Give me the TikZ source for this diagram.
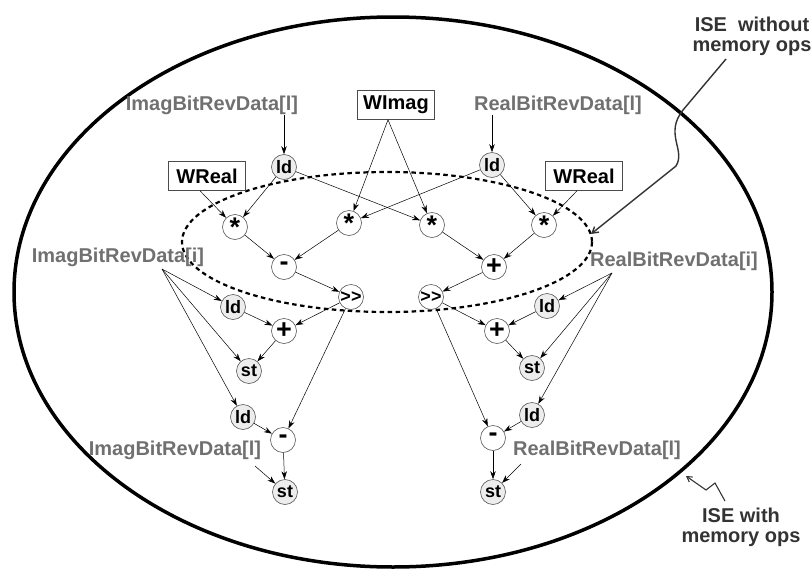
\documentclass[tikz,border=0pt]{standalone}
\usepackage{fontspec}
\setmainfont{Liberation Sans}
\usetikzlibrary{arrows.meta}
\definecolor{lblgray}{HTML}{707070}
\definecolor{anngray}{HTML}{333333}
\definecolor{nodefill}{HTML}{EDEDED}
\begin{document}
\begin{tikzpicture}[x=1pt,y=-1pt,
  op/.style={circle,draw=black!65,line width=0.6pt,fill=white,minimum size=25pt,inner sep=0pt,font=\fontsize{18}{18}\selectfont\bfseries},
  opbig/.style={op,font=\fontsize{27}{27}\selectfont\bfseries},
  mem/.style={op,fill=nodefill},
  box/.style={draw=black!70,line width=0.6pt,minimum width=77pt,minimum height=29pt,inner sep=0pt,font=\fontsize{20}{20}\selectfont\bfseries},
  lbl/.style={text=lblgray,font=\fontsize{20}{20}\selectfont\bfseries,inner sep=0pt},
  ann/.style={text=anngray,font=\fontsize{20}{20}\selectfont\bfseries,align=center,inner sep=0pt},
  arr/.style={-{Stealth[length=8pt,width=5.5pt]},line width=0.5pt,black},
  lead/.style={anngray,line width=1.4pt},
]
\useasboundingbox (0,0) rectangle (812,573);
% outer and inner ISE regions
\draw[line width=3.5pt] (393,292) ellipse [x radius=379, y radius=275];
\draw[line width=2.2pt,dash pattern=on 4.5pt off 3.5pt] (387,242) ellipse [x radius=205, y radius=70];

% boxes
\node[box] (WImag) at (396,105) {WImag};
\node[box] (WRl) at (207,176) {WReal};
\node[box] (WRr) at (584,176) {WReal};

% labels
\node[lbl] (IT) at (212,105) {ImagBitRevData[l]};
\node[lbl] (RT) at (558,105) {RealBitRevData[l]};
\node[lbl] (Ii) at (118,257) {ImagBitRevData[i]};
\node[lbl] (Ri) at (674,261) {RealBitRevData[i]};
\node[lbl] (IB) at (175,450) {ImagBitRevData[l]};
\node[lbl] (RB) at (597,450) {RealBitRevData[l]};

% nodes
\node[mem] (ldTL) at (284,167) {ld};
\node[mem] (ldTR) at (492,165) {ld};
\node[opbig] (m1) at (235,227) {\raisebox{-5pt}{*}};
\node[opbig] (m2) at (349,223) {\raisebox{-5pt}{*}};
\node[opbig] (m3) at (432,225) {\raisebox{-5pt}{*}};
\node[opbig] (m4) at (544,225) {\raisebox{-5pt}{*}};
\node[opbig] (sub1) at (284,267) {\raisebox{2pt}{-}};
\node[opbig] (add1) at (494,267) {+};
\node[op] (shl) at (351,297) {>\kern0pt>};
\node[op] (shr) at (431,297) {>\kern0pt>};
\node[mem] (ldL1) at (233,307) {ld};
\node[opbig] (addL) at (284,331) {+};
\node[mem] (stL1) at (249,371) {st};
\node[mem] (ldR1) at (547,306) {ld};
\node[opbig] (addR) at (497,331) {+};
\node[mem] (stR1) at (532,368) {st};
\node[mem] (ldL2) at (243,417) {ld};
\node[opbig] (subL) at (283,440) {\raisebox{2pt}{-}};
\node[mem] (stL2) at (285,492) {st};
\node[opbig] (subR) at (493,438) {\raisebox{2pt}{-}};
\node[mem] (ldR2) at (532,415) {ld};
\node[mem] (stR2) at (493,492) {st};

% free ends
\coordinate (pIi) at (162,269);
\coordinate (pRi) at (612,273);
\coordinate (pIB) at (255,466);
\coordinate (pRB) at (521,464);

% edges
\draw[arr] (IT.south -| ldTL) -- (ldTL);
\draw[arr] (RT.south -| ldTR) -- (ldTR);
\draw[arr] ([xshift=-8pt]WImag.south) -- (m2);
\draw[arr] ([xshift=-8pt]WImag.south) -- (m3);
\draw[arr] ([xshift=-7pt]WRl.south) -- (m1);
\draw[arr] ([xshift=-7pt]WRr.south) -- (m4);
\draw[arr] (ldTL) -- (m1);
\draw[arr] (ldTL) -- (m3);
\draw[arr] (ldTR) -- (m2);
\draw[arr] (ldTR) -- (m4);
\draw[arr] (m1) -- (sub1);
\draw[arr] (m2) -- (sub1);
\draw[arr] (m3) -- (add1);
\draw[arr] (m4) -- (add1);
\draw[arr] (sub1) -- (shl);
\draw[arr] (add1) -- (shr);
\draw[arr] (pIi) -- (ldL1);
\draw[arr] (pIi) -- (stL1);
\draw[arr] (pIi) -- (ldL2);
\draw[arr] (ldL1) -- (addL);
\draw[arr] (shl) -- (addL);
\draw[arr] (addL) -- (stL1);
\draw[arr] (shl) -- (subL);
\draw[arr] (ldL2) -- (subL);
\draw[arr] (subL) -- (stL2);
\draw[arr] (pIB) -- (stL2);
\draw[arr] (pRi) -- (ldR1);
\draw[arr] (pRi) -- (stR1);
\draw[arr] (pRi) -- (ldR2);
\draw[arr] (ldR1) -- (addR);
\draw[arr] (shr) -- (addR);
\draw[arr] (addR) -- (stR1);
\draw[arr] (shr) -- (subR);
\draw[arr] (ldR2) -- (subR);
\draw[arr] (subR) -- (stR2);
\draw[arr] (pRB) -- (stR2);

% annotations
\node[ann] (ise1) at (752,36) {ISE\ \ without\\memory ops};
\node[ann] (ise2) at (741,527) {ISE with\\memory ops};
\coordinate (a1s) at (726,59);
\coordinate (a1e) at (591,234);
\draw[lead,-{Straight Barb[length=6pt,width=7pt]}] (a1s) -- (683,110) .. controls (664,134) and (686,150) .. (676,166) -- (a1e);
\coordinate (a2s) at (725,501);
\coordinate (a2e) at (686,476);
\draw[lead,line width=1.1pt,-{Straight Barb[length=5pt,width=6pt]}] (a2s) -- (715,483) -- (706,490) -- (a2e);
\end{tikzpicture}
\end{document}
